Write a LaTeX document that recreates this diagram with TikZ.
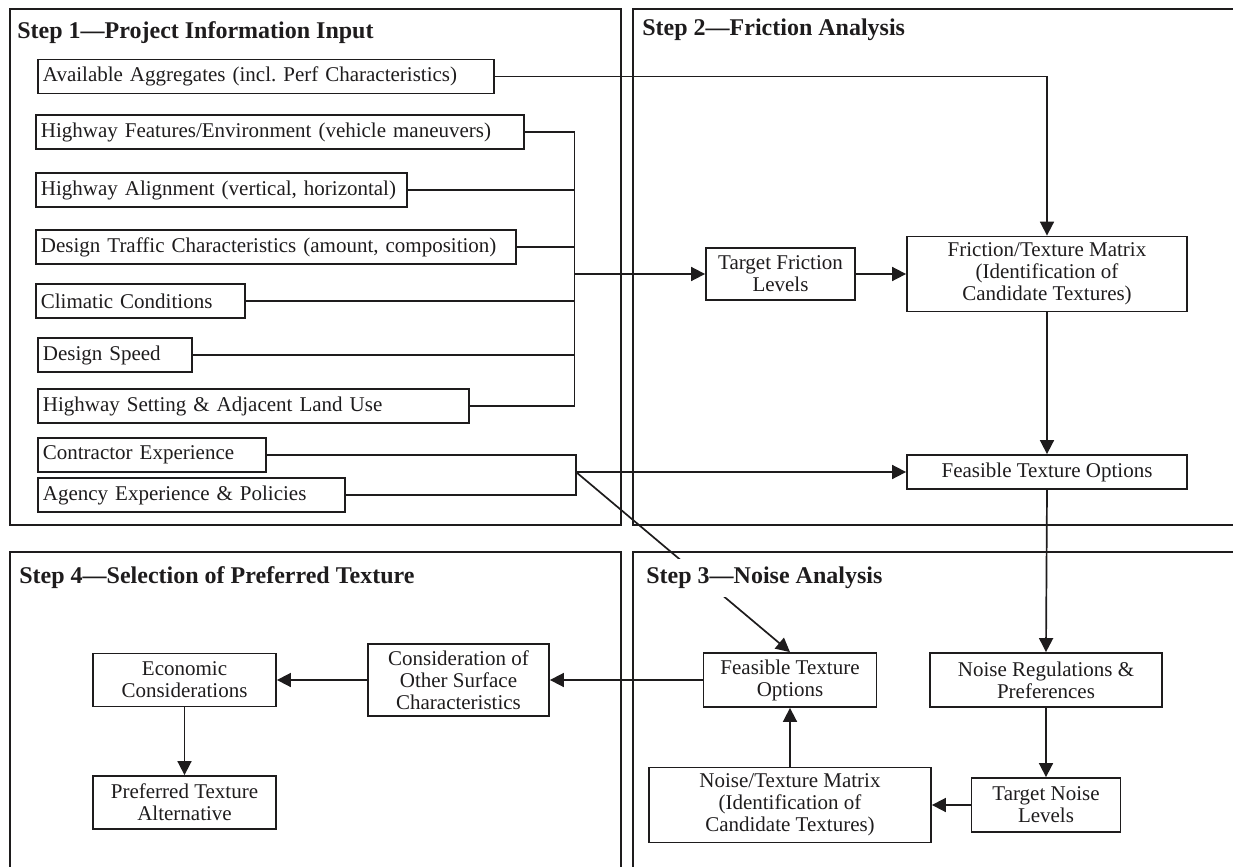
\documentclass[tikz,border=0pt]{standalone}
\usepackage{fontspec}
\setmainfont{Liberation Serif}
\usetikzlibrary{arrows.meta}
\definecolor{ink}{HTML}{1E1C1D}

\begin{document}
\begin{tikzpicture}[
  x=0.5pt, y=-0.5pt,
  panel/.style={draw=ink, line width=1.4pt},
  steptitle/.style={anchor=west, font=\bfseries\fontsize{12}{14}\selectfont, inner sep=0pt, text=ink},
  inbox/.style={draw=ink, line width=0.9pt, anchor=west, align=left, inner xsep=2.5pt,
                inner ysep=0pt, minimum height=17pt, text=ink, font=\fontsize{10.5}{11}\selectfont},
  flowbox/.style={draw=ink, line width=0.9pt, align=center, inner sep=0pt, text=ink,
                  font=\fontsize{10.5}{11}\selectfont},
  link/.style={draw=ink, line width=0.85pt},
  arr/.style={link, -{Triangle[length=7pt,width=7pt]}}
]
\useasboundingbox (0,0) rectangle (1233,867);

% the four step panels
\draw[panel] (10,9) rectangle (621,525);
\draw[panel] (633,9) rectangle (1250,525);
\draw[panel] (10,552) rectangle (621,885);
\draw[panel] (633,552) rectangle (1250,885);

\node[steptitle] (t1) at (17,33) {Step 1---Project Information Input};
\node[steptitle] (t2) at (642,30) {Step 2---Friction Analysis};
\node[steptitle] (t4) at (19,578) {Step 4---Selection of Preferred Texture};

% step 1 inputs
\node[inbox, text width=223pt]   (avail)      at (37,76.5) {Available Aggregates (incl.\ Perf Characteristics)};
\node[inbox, text width=239pt]   (feat)       at (35,132)  {Highway Features/Environment (vehicle maneuvers)};
\node[inbox, text width=180.5pt] (alignm)     at (35,190)  {Highway Alignment (vertical, horizontal)};
\node[inbox, text width=235pt]   (traffic)    at (35,247)  {Design Traffic Characteristics (amount, composition)};
\node[inbox, text width=99.5pt]  (climate)    at (35,301)  {Climatic Conditions};
\node[inbox, text width=72pt]    (speed)      at (37,355)  {Design Speed};
\node[inbox, text width=210.5pt] (setting)    at (37,406)  {Highway Setting \& Adjacent Land Use};
\node[inbox, text width=109pt]   (contractor) at (37,455)  {Contractor Experience};
\node[inbox, text width=148.5pt] (agency)     at (37,495)  {Agency Experience \& Policies};

% step 2 boxes
\node[flowbox, minimum width=74.5pt, minimum height=26pt]  (tfl)  at (780.5,274) {Target Friction\\Levels};
\node[flowbox, minimum width=140pt, minimum height=37.5pt] (ftm)  at (1047,274)  {Friction/Texture Matrix\\(Identification of\\Candidate Textures)};
\node[flowbox, minimum width=140pt, minimum height=17pt]   (fto2) at (1047,472)  {Feasible Texture Options};

% step 3 boxes
\node[flowbox, minimum width=116pt, minimum height=27pt]   (nrp)  at (1046,680)  {Noise Regulations \&\\Preferences};
\node[flowbox, minimum width=74.5pt, minimum height=27pt]  (tnl)  at (1046,805)  {Target Noise\\Levels};
\node[flowbox, minimum width=141pt, minimum height=37.5pt] (ntm)  at (790,805)   {Noise/Texture Matrix\\(Identification of\\Candidate Textures)};
\node[flowbox, minimum width=86.5pt, minimum height=27pt]  (fto3) at (790,680)   {Feasible Texture\\Options};

% step 4 boxes
\node[flowbox, minimum width=90.5pt, minimum height=36pt]   (cos) at (458.5,680) {Consideration of\\Other Surface\\Characteristics};
\node[flowbox, minimum width=91.5pt, minimum height=26.5pt] (eco) at (184.5,680) {Economic\\Considerations};
\node[flowbox, minimum width=91.5pt, minimum height=26.5pt] (pta) at (184.5,802.5) {Preferred Texture\\Alternative};

% collector bus for the highway inputs
\coordinate (busTop) at (574.5,132);
\coordinate (busOut) at (574.5,274);
\draw[link] (feat.east) -- (feat.east -| busTop) -- (setting.east -| busTop) -- (setting.east);
\foreach \n in {alignm, traffic, climate, speed}
  \draw[link] (\n.east) -- (\n.east -| busTop);
\draw[arr] (busOut) -- (tfl.west);

% experience inputs
\coordinate (expJ) at (576,472);
\draw[link] (contractor.east) -- (contractor.east -| expJ) -- (agency.east -| expJ) -- (agency.east);
\draw[arr] (expJ) -- (fto2.west);
\draw[arr] (expJ) -- (fto3.north);

% aggregates to the friction matrix
\draw[arr] (avail.east) -| (ftm.north);

% friction analysis flow
\draw[arr] (tfl.east) -- (ftm.west);
\draw[arr] (ftm.south) -- (fto2.north);
\draw[arr] (fto2.south) -- (nrp.north);

% noise analysis flow
\draw[arr] (nrp.south) -- (tnl.north);
\draw[arr] (tnl.west) -- (ntm.east);
\draw[arr] (ntm.north) -- (fto3.south);

% selection flow
\draw[arr] (fto3.west) -- (cos.east);
\draw[arr] (cos.west) -- (eco.east);
\draw[arr] (eco.south) -- (pta.north);

% step 3 title sits over the diagonal connector
\node[steptitle, fill=white, inner xsep=2pt, inner ysep=4pt] (t3) at (642,578) {Step 3---Noise Analysis};
\end{tikzpicture}
\end{document}
